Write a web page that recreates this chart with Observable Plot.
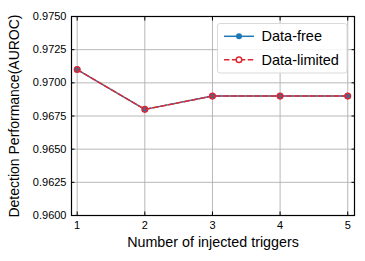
<!DOCTYPE html>
<html>
<head>
<meta charset="utf-8">
<script src="https://cdn.jsdelivr.net/npm/d3@7"></script>
<script src="https://cdn.jsdelivr.net/npm/@observablehq/plot@0.6"></script>
<style>
  html, body { margin: 0; padding: 0; background: white; }
  #chart { width: 365px; height: 261px; }
</style>
</head>
<body>
<div id="chart"></div>
<script>
const triggers = [1, 2, 3, 4, 5];
const dataFree = [0.9710, 0.9680, 0.9690, 0.9690, 0.9690];
const dataLimited = [0.9710, 0.9680, 0.9690, 0.9690, 0.9690];
const yTicks = [0.9600, 0.9625, 0.9650, 0.9675, 0.9700, 0.9725, 0.9750];
const xTicks = [1, 2, 3, 4, 5];
const seriesNames = ["Data-free", "Data-limited"];
const xTitle = "Number of injected triggers";
const yTitle = "Detection Performance(AUROC)";

const blue = "#1f77b4";
const red = "#dc2830";
const font = "'Liberation Sans', Arial, Helvetica, sans-serif";

const free = triggers.map((x, i) => ({x, y: dataFree[i]}));
const limited = triggers.map((x, i) => ({x, y: dataLimited[i]}));

const W = 365, H = 261, mL = 71, mR = 11, mT = 16, mB = 46;

const plot = Plot.plot({
  width: W,
  height: H,
  marginLeft: mL,
  marginRight: mR,
  marginTop: mT,
  marginBottom: mB,
  style: {fontFamily: font, fontSize: "11px", color: "black", background: "white"},
  x: {domain: [0.916, 5.1]},
  y: {domain: [0.96, 0.975]},
  marks: [
    Plot.ruleY(yTicks, {stroke: "#b0b0b0", strokeWidth: 0.9}),
    Plot.ruleX(xTicks, {stroke: "#b0b0b0", strokeWidth: 0.9}),
    Plot.axisX(xTicks, {anchor: "bottom", tickSize: -3.5, tickPadding: 9, tickFormat: d => String(d), label: null, fontSize: 11}),
    Plot.axisX(xTicks, {anchor: "top", tickSize: -3.5, tickFormat: () => "", label: null}),
    Plot.axisY(yTicks, {anchor: "left", tickSize: -3.5, tickPadding: 8.5, tickFormat: d => d.toFixed(4), label: null, fontSize: 11}),
    Plot.axisY(yTicks, {anchor: "right", tickSize: -3.5, tickFormat: () => "", label: null}),
    Plot.line(free, {x: "x", y: "y", stroke: blue, strokeWidth: 1.5}),
    Plot.dot(free, {x: "x", y: "y", fill: blue, r: 3, stroke: "none"}),
    Plot.line(limited, {x: "x", y: "y", stroke: red, strokeWidth: 1.5, strokeDasharray: "5.5,2.4"}),
    Plot.dot(limited, {x: "x", y: "y", fill: "none", stroke: red, r: 2.8, strokeWidth: 1.5}),
    Plot.frame({stroke: "black", strokeWidth: 1.2}),
    Plot.text([xTitle], {text: d => d, frameAnchor: "bottom", textAnchor: "middle", dy: 27, fontSize: 14.3, lineAnchor: "middle"}),
    Plot.text([yTitle], {text: d => d, frameAnchor: "left", textAnchor: "middle", dx: -57, rotate: -90, fontSize: 14, lineAnchor: "middle"})
  ]
});

// Legend
const svg = d3.select(plot);
const lg = svg.append("g").attr("font-family", font).attr("font-size", 14.5).attr("text-anchor", "start");
lg.append("rect")
  .attr("x", 217.5).attr("y", 23.5).attr("width", 129.5).attr("height", 49.5)
  .attr("rx", 2.5).attr("fill", "white").attr("fill-opacity", 0.85)
  .attr("stroke", "#d9d9d9").attr("stroke-width", 1);
const rows = [
  {name: seriesNames[0], color: blue, dash: null, fill: blue, y: 36.3},
  {name: seriesNames[1], color: red, dash: "5.5,2.4", fill: "white", y: 59.7}
];
rows.forEach(r => {
  const l = lg.append("line").attr("x1", 224).attr("x2", 254).attr("y1", r.y).attr("y2", r.y)
    .attr("stroke", r.color).attr("stroke-width", 1.5);
  if (r.dash) l.attr("stroke-dasharray", r.dash);
  lg.append("circle").attr("cx", 239).attr("cy", r.y).attr("r", r.dash ? 2.8 : 3)
    .attr("fill", r.fill).attr("stroke", r.dash ? r.color : "none").attr("stroke-width", 1.5);
  lg.append("text").attr("x", 261.5).attr("y", r.y).attr("dy", "0.35em")
    .attr("text-anchor", "start").attr("fill", "black").text(r.name);
});

document.getElementById("chart").appendChild(plot);
</script>
</body>
</html>
